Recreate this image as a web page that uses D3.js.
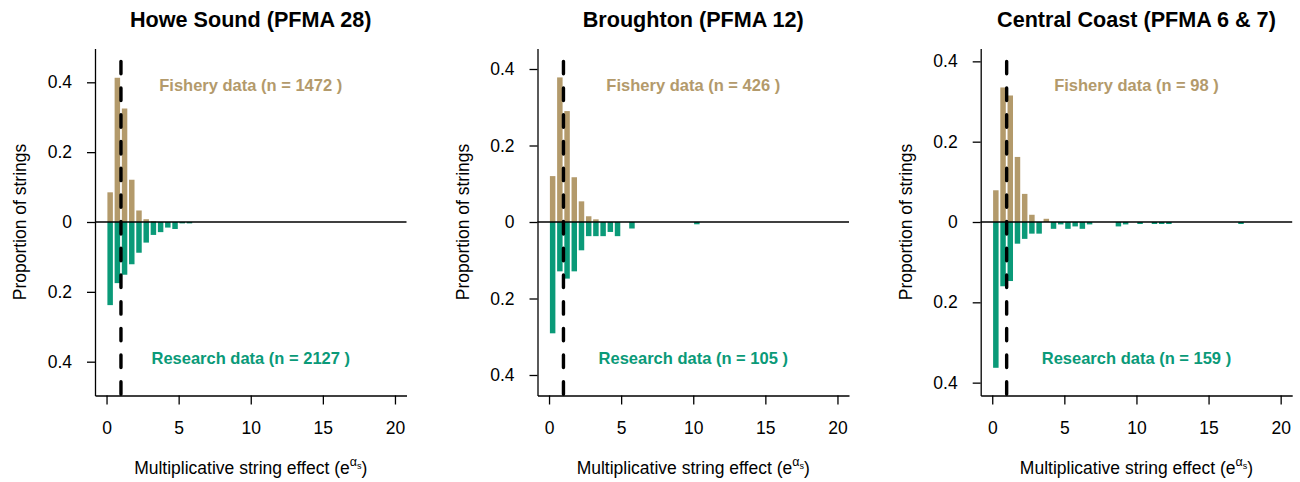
<!DOCTYPE html>
<html>
<head>
<meta charset="utf-8">
<script src="https://cdn.jsdelivr.net/npm/d3@7"></script>
<style>
  body { margin: 0; background: #fff; }
  svg text { font-family: "Liberation Sans", Arial, Helvetica, sans-serif; fill: #000; }
</style>
</head>
<body>
<svg id="chart" width="1300" height="482"></svg>
<script>
// Histogram bins of the multiplicative string effect, 0.5 wide, starting at 0
const binWidth = 0.5;

const regions = ["Howe Sound (PFMA 28)", "Broughton (PFMA 12)", "Central Coast (PFMA 6 & 7)"];
const fisheryN = [1472, 426, 98];
const researchN = [2127, 105, 159];
const yLimits = [0.46, 0.42, 0.40];
const yTicks = [-0.4, -0.2, 0, 0.2, 0.4];
const xTicks = [0, 5, 10, 15, 20];

// Proportion of strings per bin (fishery above the zero line, research below)
const fisheryHowe = [0.085, 0.413, 0.325, 0.121, 0.033, 0.008, 0.002];
const researchHowe = [0.238, 0.175, 0.151, 0.121, 0.088, 0.059, 0.037, 0.029, 0.016, 0.020, 0.004, 0.004];

const fisheryBroughton = [0.120, 0.378, 0.290, 0.117, 0.054, 0.015, 0.007];
const researchBroughton = [0.291, 0.129, 0.148, 0.129, 0.074, 0.037, 0.037, 0.037, 0.026, 0.037,
  0, 0.017, 0, 0, 0, 0, 0, 0, 0, 0, 0.006];

const fisheryCentral = [0.079, 0.335, 0.315, 0.162, 0.070, 0.018, 0, 0.008];
const researchCentral = [0.363, 0.160, 0.147, 0.054, 0.042, 0.029, 0.029, 0, 0.017, 0.006,
  0.017, 0.011, 0.017, 0.006, 0, 0, 0, 0.011, 0.006, 0, 0.005, 0, 0.005, 0.005, 0.005,
  0, 0, 0, 0, 0, 0, 0, 0, 0, 0.005];

const fisherySeries = [fisheryHowe, fisheryBroughton, fisheryCentral];
const researchSeries = [researchHowe, researchBroughton, researchCentral];

const fisheryColor = "#b39a6b";
const researchColor = "#0a9a78";

const svg = d3.select("#chart");
const panelLeft = [95, 537.5, 980.7];
const plotW = 311.5, plotTop = 48.5, plotBottom = 395.5;
const labelSize = 17.5;

regions.forEach((name, p) => {
  const left = panelLeft[p];
  const lim = yLimits[p];
  const x = d3.scaleLinear().domain([-0.8, 20.8]).range([left, left + plotW]);
  const y = d3.scaleLinear().domain([-lim * 1.08, lim * 1.08]).range([plotBottom, plotTop]);
  const g = svg.append("g");
  const barFrac = 0.76;

  const toBins = arr => arr.map((v, i) => ({ i, v })).filter(d => d.v > 0);

  // Fishery bars
  g.selectAll("rect.fishery").data(toBins(fisherySeries[p])).join("rect")
    .attr("x", d => x(d.i * binWidth + binWidth * (1 - barFrac) / 2))
    .attr("width", x(binWidth * barFrac) - x(0))
    .attr("y", d => y(d.v))
    .attr("height", d => y(0) - y(d.v))
    .attr("fill", fisheryColor);

  // Research bars, drawn downward
  g.selectAll("rect.research").data(toBins(researchSeries[p])).join("rect")
    .attr("x", d => x(d.i * binWidth + binWidth * (1 - barFrac) / 2))
    .attr("width", x(binWidth * barFrac) - x(0))
    .attr("y", y(0))
    .attr("height", d => y(-d.v) - y(0))
    .attr("fill", researchColor);

  // Zero line
  g.append("line")
    .attr("x1", x.range()[0]).attr("x2", x.range()[1])
    .attr("y1", y(0)).attr("y2", y(0))
    .attr("stroke", "#000").attr("stroke-width", 1.4);

  // Reference line at an effect of 1
  g.append("line")
    .attr("x1", x(1)).attr("x2", x(1))
    .attr("y1", y(lim)).attr("y2", plotBottom)
    .attr("stroke", "#000").attr("stroke-width", 3.4)
    .attr("stroke-linecap", "round")
    .attr("stroke-dasharray", "12.5 14.2");

  // Axes
  const yAxis = d3.axisLeft(y).tickValues(yTicks)
    .tickFormat(v => v === 0 ? "0" : d3.format(".1f")(Math.abs(v)))
    .tickSizeInner(8).tickSizeOuter(0).tickPadding(15);
  const ya = g.append("g").attr("transform", `translate(${left},0)`).call(yAxis);

  const xAxis = d3.axisBottom(x).tickValues(xTicks)
    .tickSizeInner(9).tickSizeOuter(0).tickPadding(17);
  const xa = g.append("g").attr("transform", `translate(0,${plotBottom})`).call(xAxis);

  [ya, xa].forEach(a => {
    a.select(".domain").attr("stroke-width", 1.3);
    a.selectAll(".tick line").attr("stroke-width", 1.3);
    a.selectAll(".tick text").attr("font-size", labelSize).attr("font-family", null);
  });

  // Title
  g.append("text")
    .attr("x", x(10)).attr("y", 27)
    .attr("text-anchor", "middle")
    .attr("font-size", 21.6).attr("font-weight", "bold")
    .text(name);

  // Y label
  g.append("text")
    .attr("transform", `translate(${left - 69},${y(0)}) rotate(-90)`)
    .attr("text-anchor", "middle")
    .attr("font-size", labelSize)
    .text("Proportion of strings");

  // X label with superscript exponent
  const xl = g.append("text")
    .attr("x", x(10)).attr("y", 474)
    .attr("text-anchor", "middle")
    .attr("font-size", labelSize);
  xl.append("tspan").text("Multiplicative string effect (e");
  xl.append("tspan").attr("dy", -8).attr("font-size", 12.5).text("α");
  xl.append("tspan").attr("dy", 3).attr("font-size", 9).text("s");
  xl.append("tspan").attr("dy", 5).text(")");

  // Sample size annotations
  g.append("text")
    .attr("x", x(10)).attr("y", y(lim * 0.85) + 5.5)
    .attr("text-anchor", "middle")
    .attr("font-size", 16.5).attr("font-weight", "bold")
    .style("fill", fisheryColor)
    .text(`Fishery data (n = ${fisheryN[p]} )`);

  g.append("text")
    .attr("x", x(10)).attr("y", y(-lim * 0.85) + 5.5)
    .attr("text-anchor", "middle")
    .attr("font-size", 16.5).attr("font-weight", "bold")
    .style("fill", researchColor)
    .text(`Research data (n = ${researchN[p]} )`);
});
</script>
</body>
</html>
